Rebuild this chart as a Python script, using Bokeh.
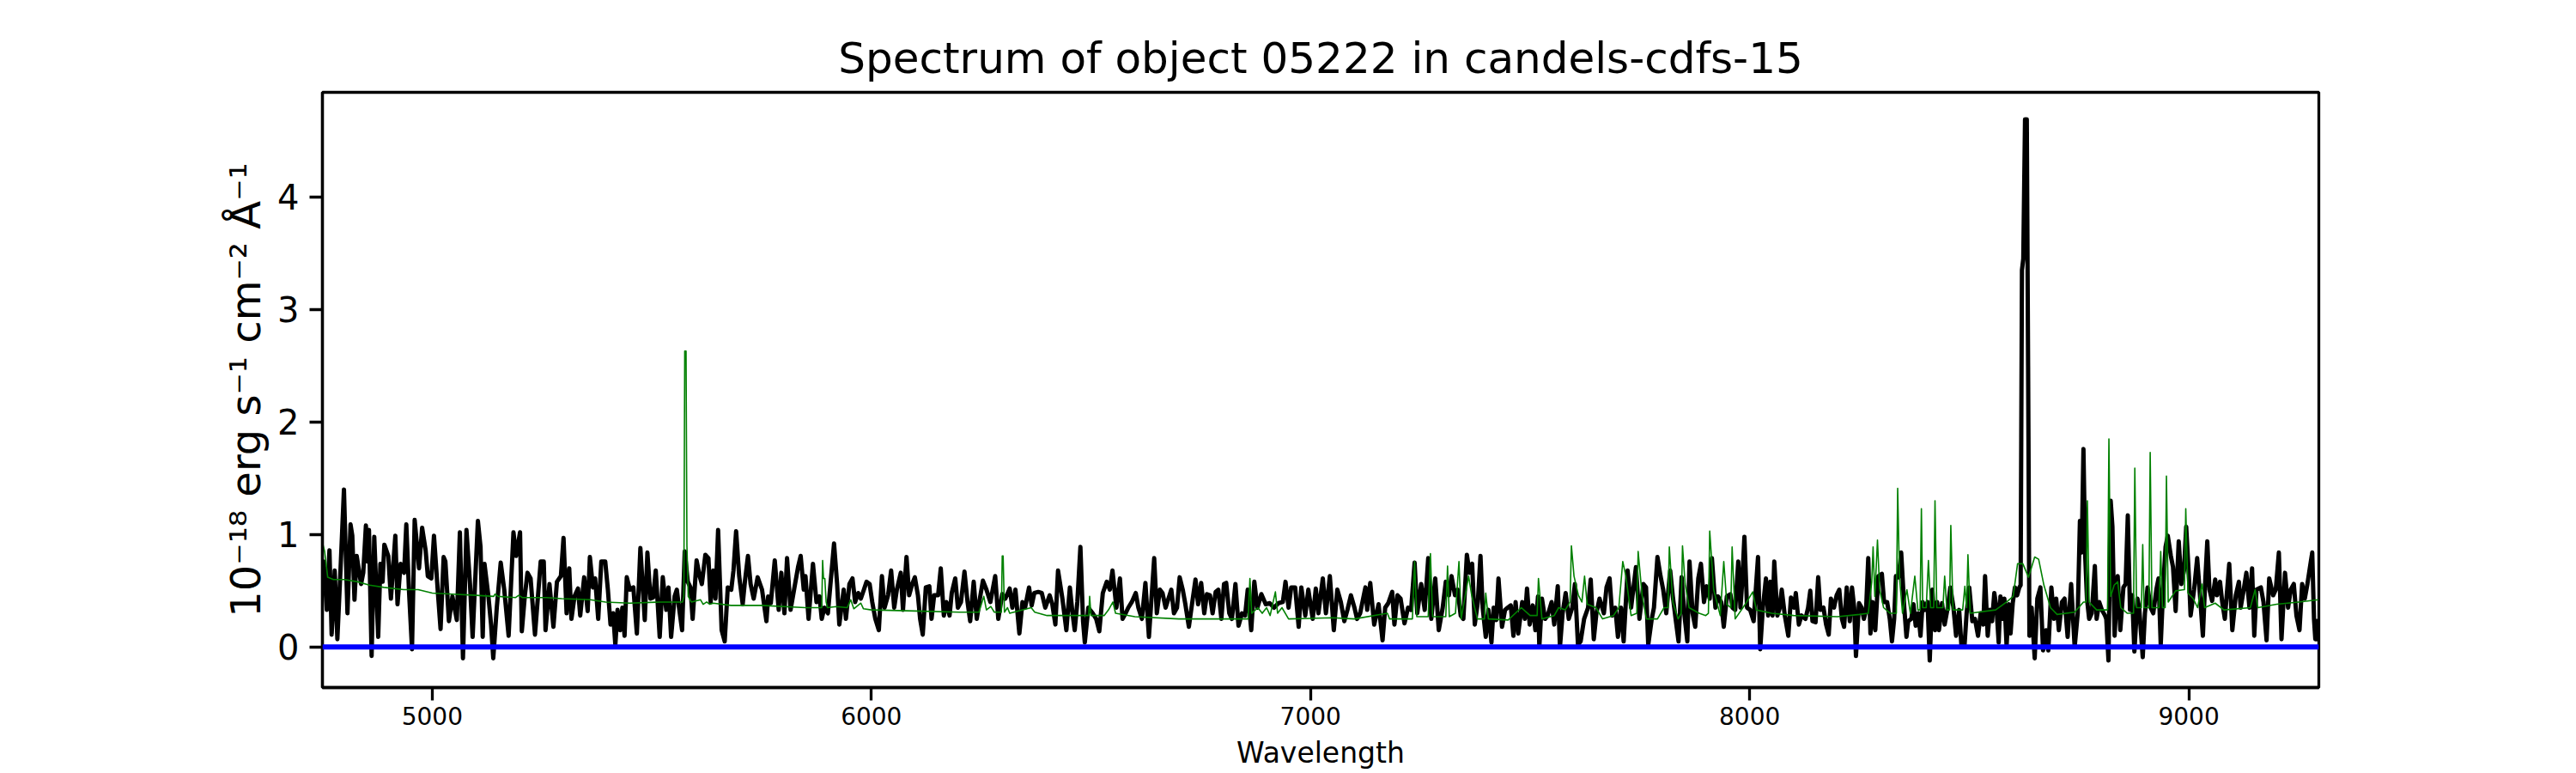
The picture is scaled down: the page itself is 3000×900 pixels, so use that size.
from bokeh.plotting import figure
from bokeh.models import Range1d, FixedTicker, ColumnDataSource, Span
from bokeh.embed import file_html
from bokeh.resources import INLINE

TITLE = "Spectrum of object 05222 in candels-cdfs-15"
X_LABEL = "Wavelength"
Y_LABEL = "10\u207b\u00b9\u2078 erg s\u207b\u00b9 cm\u207b\u00b2 \u00c5\u207b\u00b9"
x_ticks = [5000, 6000, 7000, 8000, 9000]
y_ticks = [0, 1, 2, 3, 4]
zero_level = 0.0

# observed flux (black)
obs_wave = [
    4750,4753,4760,4766,4771,4778,4784,4792,4799,4807,4814,4818,4823,4828,4838,4843,4849,4852,4856,4862,
    4868,4877,4882,4887,4891,4900,4906,4916,4921,4928,4936,4941,4947,4954,4960,4970,4977,4985,4990,4998,
    5004,5013,5019,5026,5030,5038,5046,5056,5063,5070,5078,5086,5092,5104,5110,5115,5119,5128,5134,5139,
    5147,5156,5164,5174,5185,5191,5200,5204,5211,5217,5224,5234,5247,5254,5258,5267,5276,5284,5293,5299,
    5306,5312,5317,5324,5332,5337,5346,5354,5359,5366,5371,5378,5385,
    5394,5400,5406,5412,5417,5422,5428,5433,5438,5443,5450,5458,5466,5474,5484,5490,5497,5503,5509,5518,
    5525,5533,5538,5544,5552,5557,5562,5569,5575,5582,5588,5593,5602,5609,5614,5622,5629,5634,5640,5645,
    5651,5659,5666,5673,5681,5686,5692,5699,5707,5712,5719,5725,5732,5741,5751,5761,5765,5771,5780,5789,
    5795,5802,5808,5816,5824,5833,5839,5846,5850,5857,5867,5875,5882,5887,5893,5901,5915,5922,5927,5937,
    5942,5950,5957,5963,5970,5976,5983,5989,5996,6002,6009,6017,6024,6030,
    6038,6045,6052,6058,6067,6072,6080,6086,6093,6099,6106,6111,6117,6124,6132,6137,6143,6152,6158,6165,
    6171,6178,6183,6191,6197,6204,6212,6219,6225,6233,6240,6247,6254,6262,6271,6282,6289,6298,6305,6315,
    6321,6328,6337,6344,6350,6359,6365,6371,6380,6388,6396,6406,6412,6419,6425,6435,6444,6452,6458,6463,
    6469,6476,6482,6486,6494,6504,6512,6519,6527,6536,6543,6549,6558,6566,6572,6579,6585,6593,6602,6608,
    6616,6624,6632,6644,6650,6657,6663,6670,
    6683,6689,6696,6702,6709,6715,6723,6729,6738,6744,6751,6758,6764,6771,6777,6784,6790,6797,6803,6808,
    6815,6821,6829,6836,6844,6851,6857,6865,6872,6879,6888,6898,6907,6917,6927,6937,6943,6950,6956,6965,
    6973,6979,6988,6995,7005,7012,7018,7028,7035,7044,7053,7061,7069,7077,7084,7092,7100,7106,7113,7125,
    7129,7136,7145,7155,7164,7170,7177,7186,7191,7198,7205,7214,7222,7229,7237,7243,7252,7260,7268,7275,
    7284,7292,7301,7308,7315,7321,
    7329,7335,7342,7348,7356,7362,7368,7374,7381,7387,7392,7399,7405,7412,7417,7423,7428,7436,7443,7449,
    7456,7462,7467,7473,7482,7488,7493,7499,7506,7512,7518,7521,7527,7534,7540,7549,7555,7563,7568,7574,
    7581,7588,7596,7602,7609,7615,7623,7632,7638,7645,7651,7658,7668,7674,7681,7687,7694,7700,7707,7713,
    7722,7730,7741,7749,7758,7764,7769,7777,7782,7790,7797,7803,7810,7819,7825,7832,7838,7845,7851,7858,
    7863,7870,7876,7883,7889,7896,7902,7909,7914,7922,7928,7935,7941,7948,7956,7961,7967,7974,
    7979,7983,7988,7994,8001,8009,8019,8024,8030,8037,8042,8047,8052,8056,8063,8068,8073,8080,8088,8094,
    8101,8105,8112,8118,8127,8133,8138,8143,8150,8156,8161,8168,8174,8180,8185,8192,8198,8204,8210,8215,
    8221,8228,8233,8238,8242,8249,8255,8260,8265,8270,8275,8280,8286,8293,8301,8306,8313,8319,8324,8329,
    8333,8339,8345,8352,8357,8361,8368,8373,8378,8384,8389,8394,8399,8405,8410,8416,8422,8427,8431,8438,
    8444,8451,8457,8464,8470,8477,8482,8489,8494,8500,8507,8513,8520,8526,8532,8536,8542,8547,8552,8557,
    8562,8567,8571,8577,8580,8585,8590,8594,8599,8604,8609,8614,8617,
    8620,8623,8627,8631,8634,8637,
    8642,8649,8655,8662,8668,8675,8680,8687,8693,8698,8704,8711,8717,8724,8732,8740,8747,8752,8756,8760,
    8764,8768,8773,8779,8786,8790,8796,8802,8809,8812,8817,8822,8826,8831,8838,8844,8851,8856,8861,8866,
    8871,8876,8883,8887,8895,8900,8906,8913,8919,8926,8931,8936,8942,8947,8952,8959,8964,8970,8977,8983,
    8989,8994,9001,9004,9012,9019,9025,9032,9037,9042,9047,9053,9060,9064,9071,9076,9082,9092,9099,9107,
    9114,9118,9125,9131,9138,9144,9149,9154,9164,9170,9177,9183,9192,9198,9205,9211,9219,9226,9232,9239,
    9245,9252,9258,9264,9270,9277,9281,9285,9288,9292,9295,
]
obs_flux = [
    0.50,0.76,0.33,0.86,0.11,0.68,0.07,0.76,1.40,0.30,1.09,0.99,0.42,0.81,0.56,0.66,1.08,0.76,1.04,-0.08,
    0.98,0.09,0.74,0.58,0.91,0.81,0.43,0.99,0.38,0.74,0.66,1.09,0.51,-0.02,1.13,0.70,1.06,0.86,0.63,0.61,
    0.99,0.48,0.16,0.80,0.76,0.23,0.45,0.24,1.02,-0.10,1.04,0.56,0.09,1.12,0.89,0.09,0.74,0.45,0.20,-0.10,
    0.35,0.75,0.51,0.10,1.02,0.81,1.02,0.14,0.46,0.66,0.61,0.11,0.76,0.76,0.15,0.56,0.18,0.58,0.63,0.97,
    0.30,0.70,0.25,0.45,0.52,0.28,0.62,0.32,0.80,0.53,0.61,0.25,0.76,
    0.76,0.51,0.20,0.30,0.02,0.33,0.15,0.35,0.10,0.62,0.51,0.53,0.12,0.88,0.24,0.84,0.43,0.44,0.68,0.09,
    0.62,0.33,0.53,0.09,0.45,0.51,0.35,0.15,0.85,0.58,0.53,0.25,0.77,0.63,0.56,0.82,0.79,0.40,0.68,0.43,
    1.04,0.15,0.05,0.53,0.51,0.68,1.03,0.63,0.38,0.58,0.81,0.56,0.43,0.62,0.51,0.23,0.45,0.39,0.77,0.33,
    0.66,0.30,0.79,0.33,0.51,0.71,0.81,0.51,0.63,0.25,0.74,0.40,0.45,0.25,0.35,0.30,0.92,0.56,0.20,0.51,
    0.25,0.56,0.61,0.40,0.48,0.43,0.51,0.58,0.56,0.40,0.25,0.15,0.63,0.35,
    0.46,0.68,0.35,0.51,0.66,0.33,0.80,0.46,0.56,0.62,0.46,0.25,0.11,0.53,0.54,0.25,0.46,0.46,0.70,0.28,
    0.40,0.28,0.48,0.61,0.35,0.40,0.67,0.40,0.23,0.58,0.25,0.43,0.59,0.51,0.40,0.63,0.25,0.47,0.43,0.52,
    0.35,0.51,0.12,0.40,0.35,0.53,0.37,0.48,0.49,0.48,0.35,0.46,0.38,0.20,0.68,0.43,0.15,0.53,0.30,0.15,
    0.40,0.89,0.23,0.04,0.35,0.30,0.25,0.14,0.48,0.58,0.51,0.68,0.35,0.61,0.25,0.30,0.35,0.40,0.48,0.35,
    0.25,0.57,0.09,0.79,0.30,0.51,0.48,0.35,
    0.51,0.30,0.35,0.62,0.51,0.38,0.18,0.35,0.60,0.38,0.57,0.30,0.47,0.46,0.30,0.49,0.51,0.25,0.56,0.57,
    0.30,0.25,0.56,0.19,0.30,0.28,0.51,0.15,0.58,0.35,0.47,0.38,0.39,0.35,0.39,0.40,0.58,0.35,0.53,0.53,
    0.18,0.53,0.28,0.51,0.25,0.52,0.30,0.61,0.30,0.63,0.15,0.51,0.40,0.23,0.33,0.46,0.35,0.25,0.30,0.53,
    0.33,0.57,0.20,0.38,0.06,0.35,0.39,0.49,0.20,0.46,0.43,0.21,0.35,0.33,0.75,0.30,0.56,0.33,0.79,0.25,
    0.61,0.15,0.35,0.58,0.46,0.63,
    0.46,0.51,0.28,0.25,0.82,0.66,0.74,0.20,0.40,0.81,0.35,0.09,0.33,0.04,0.35,0.24,0.61,0.18,0.33,0.35,
    0.37,0.10,0.40,0.12,0.40,0.25,0.52,0.20,0.37,0.15,0.45,0.00,0.43,0.25,0.28,0.40,0.20,0.54,0.00,0.30,
    0.48,0.25,0.35,0.56,0.02,0.05,0.25,0.35,0.60,0.07,0.30,0.43,0.30,0.53,0.61,0.28,0.35,0.09,0.35,0.05,
    0.68,0.35,0.71,0.25,0.56,0.53,0.02,0.25,0.35,0.80,0.63,0.51,0.30,0.68,0.45,0.23,0.05,0.62,0.30,0.05,
    0.76,0.30,0.18,0.61,0.74,0.40,0.54,0.43,0.79,0.35,0.45,0.40,0.18,0.45,0.47,0.35,0.33,0.76,
    0.35,0.58,0.98,0.35,0.33,0.23,0.80,-0.02,0.35,0.61,0.28,0.58,0.28,0.76,0.28,0.34,0.51,0.28,0.10,0.44,
    0.35,0.48,0.20,0.28,0.25,0.35,0.50,0.23,0.22,0.62,0.33,0.35,0.20,0.11,0.43,0.35,0.46,0.51,0.25,0.18,
    0.53,0.23,0.53,0.35,-0.08,0.39,0.35,0.25,0.33,0.79,0.12,0.40,0.15,0.63,0.65,0.40,0.40,0.25,0.05,0.25,
    0.63,0.62,0.84,0.35,0.09,0.23,0.25,0.38,0.19,0.30,0.10,0.40,0.33,0.40,-0.12,0.51,0.15,0.40,0.15,0.39,
    0.20,0.35,0.53,0.35,0.10,0.33,0.02,0.00,0.30,0.53,0.23,0.25,0.10,0.30,0.20,0.63,0.10,0.33,0.23,0.48,
    0.35,0.04,0.45,0.25,0.43,0.01,0.38,0.12,0.39,0.53,0.46,0.53,0.55,
    3.35,3.45,4.69,4.69,2.50,0.10,
    0.35,-0.10,0.43,0.53,-0.03,0.15,-0.03,0.53,0.25,0.43,0.15,0.40,0.43,0.09,0.56,0.00,0.30,1.12,0.84,1.76,
    0.81,0.43,0.25,0.30,0.72,0.25,0.40,0.33,0.28,0.25,-0.12,1.30,1.07,0.10,0.63,0.15,0.53,0.56,1.17,0.33,
    0.46,-0.04,0.43,0.35,-0.09,0.30,0.53,0.35,0.30,0.51,0.61,0.02,0.56,0.89,0.99,0.81,0.71,0.32,0.94,0.56,
    0.68,1.07,0.56,0.28,0.51,0.79,0.48,0.10,0.56,0.94,0.51,0.41,0.60,0.46,0.58,0.40,0.25,0.74,0.15,0.46,
    0.58,0.35,0.51,0.66,0.35,0.70,0.10,0.51,0.53,0.40,0.06,0.61,0.46,0.51,0.84,0.07,0.66,0.35,0.51,0.56,
    0.28,0.15,0.56,0.43,0.56,0.74,0.84,0.25,0.07,0.07,0.25,
]

# model / sky (green)
model_wave = [
    4750,4755,4762,4775,4800,4830,4857,4890,4935,4968,5000,5046,5100,5140,5143,5150,5190,5197,5205,5260,
    5295,5360,5395,5450,5520,5570,5573,5575,5578,5580,5583,5590,5611,5617,5625,5632,5640,5680,5750,5850,
    5887,5889,5891,5894,5897,5900,5920,5945,5953,5960,5976,5982,6000,6100,6200,6245,6256,6262,6272,6280,
    6296,6298,6300,6303,6310,6315,6364,6372,6400,6480,6495,6497,6500,6530,6540,6550,6556,6600,6700,6858,
    6862,6866,6880,6890,6900,6908,6920,6925,6935,6950,7050,7100,7175,7180,7232,7237,7242,7268,7273,7278,
    7308,7312,7316,7330,7338,7343,7360,7367,7380,7396,7399,7405,7450,7480,7500,7516,7519,7527,7555,7565,
    7580,7591,7594,7600,7610,7618,7624,7630,7650,7665,7690,7702,7711,7718,7730,7743,7746,7755,7765,7790,
    7805,7814,7817,7825,7837,7844,7847,7853,7862,7885,7900,7906,7909,7918,7933,7941,7948,7957,7960,7967,
    7990,8007,8015,8050,8100,8200,8250,8270,8278,8281,8285,8291,8296,8305,8320,8334,8337,8341,8348,8358,
    8366,8376,8383,8388,8391,8394,8402,8407,8412,8419,8422,8426,8440,8444,8449,8455,8458,8463,8485,8490,
    8494,8497,8502,8560,8585,8600,8610,8622,8635,8649,8658,8670,8685,8700,8740,8760,8766,8769,8773,8790,
    8815,8818,8822,8830,8838,8845,8860,8874,8877,8881,8892,8895,8898,8909,8912,8916,8932,8936,8940,8946,
    8949,8953,8970,8990,8993,8998,9010,9020,9030,9036,9060,9080,9140,9151,9157,9200,9250,9295,
]
model_flux = [
    0.93,0.85,0.62,0.60,0.60,0.58,0.55,0.53,0.51,0.51,0.48,0.47,0.46,0.45,0.47,0.45,0.44,0.46,0.44,0.44,
    0.43,0.42,0.40,0.39,0.40,0.40,0.45,2.63,2.63,0.90,0.45,0.40,0.42,0.38,0.40,0.38,0.39,0.37,0.37,0.35,
    0.35,0.77,0.61,0.61,0.40,0.35,0.36,0.35,0.42,0.34,0.39,0.34,0.33,0.32,0.31,0.31,0.45,0.33,0.36,0.31,
    0.31,0.81,0.81,0.31,0.35,0.30,0.35,0.31,0.28,0.28,0.28,0.45,0.28,0.28,0.33,0.40,0.30,0.27,0.25,0.25,
    0.61,0.30,0.35,0.30,0.35,0.28,0.49,0.30,0.35,0.25,0.26,0.25,0.30,0.25,0.25,0.76,0.27,0.27,0.83,0.27,
    0.27,0.72,0.27,0.30,0.76,0.25,0.63,0.46,0.25,0.25,0.48,0.25,0.24,0.35,0.28,0.28,0.61,0.25,0.28,0.35,
    0.33,0.40,0.90,0.63,0.46,0.40,0.63,0.38,0.35,0.25,0.28,0.35,0.76,0.63,0.28,0.30,0.85,0.46,0.25,0.25,
    0.35,0.35,0.89,0.40,0.25,0.30,0.90,0.56,0.35,0.30,0.28,0.30,1.03,0.51,0.28,0.76,0.38,0.35,0.89,0.25,
    0.38,0.49,0.33,0.30,0.28,0.27,0.29,0.30,0.58,0.89,0.45,0.95,0.51,0.35,0.30,0.30,1.41,0.63,0.30,0.51,
    0.30,0.63,0.33,0.33,1.23,0.35,0.35,0.77,0.35,0.35,1.30,0.35,0.35,0.63,0.33,0.33,1.08,0.33,0.33,0.54,
    0.35,0.82,0.30,0.33,0.40,0.45,0.74,0.74,0.62,0.80,0.78,0.55,0.35,0.29,0.31,0.40,0.40,1.30,0.40,0.33,
    0.33,1.85,0.45,0.55,0.58,0.35,0.30,0.30,1.59,0.35,0.35,0.91,0.35,0.35,1.73,0.35,0.35,0.85,0.35,0.35,
    1.52,0.40,0.50,0.51,1.23,0.48,0.43,0.35,0.56,0.35,0.39,0.33,0.35,0.51,0.35,0.38,0.40,0.42,
]

assert len(obs_wave) == len(obs_flux), (len(obs_wave), len(obs_flux))
assert len(model_wave) == len(model_flux), (len(model_wave), len(model_flux))

FONT = "DejaVu Sans"

p = figure(width=3000, height=900, output_backend="svg", toolbar_location=None,
           x_range=Range1d(4750, 9296), y_range=Range1d(-0.36, 4.93),
           min_border_left=375, min_border_right=300, min_border_top=107, min_border_bottom=100,
           title=TITLE)
p.background_fill_color = "white"
p.border_fill_color = "white"
p.grid.visible = False
p.outline_line_color = "black"
p.outline_line_width = 3.3
p.outline_line_alpha = 1.0

p.title.text_font = FONT
p.title.text_font_size = "50px"
p.title.text_font_style = "normal"
p.title.text_color = "black"
p.title.align = "center"
p.title.standoff = 22

obs_src = ColumnDataSource(dict(x=obs_wave, y=obs_flux))
mod_src = ColumnDataSource(dict(x=model_wave, y=model_flux))

p.line("x", "y", source=obs_src, line_color="black", line_width=5, line_join="round")
p.line("x", "y", source=mod_src, line_color="#008000", line_width=1.6, line_join="round")
p.add_layout(Span(location=zero_level, dimension="width", line_color="blue", line_width=6))

for ax in (p.xaxis[0], p.yaxis[0]):
    ax.major_tick_out = 15
    ax.major_tick_in = 0
    ax.minor_tick_line_color = None
    ax.major_tick_line_width = 3.3
    ax.major_tick_line_color = "black"
    ax.axis_line_width = 3.3
    ax.axis_line_color = "black"
    ax.major_label_text_font = FONT
    ax.major_label_text_color = "black"
    ax.axis_label_text_font = FONT
    ax.axis_label_text_font_style = "normal"
    ax.axis_label_text_color = "black"

xa = p.xaxis[0]
xa.ticker = FixedTicker(ticks=x_ticks)
xa.major_label_text_font_size = "28px"
xa.major_label_standoff = 7
xa.axis_label = X_LABEL
xa.axis_label_text_font_size = "33px"
xa.axis_label_standoff = 10

ya = p.yaxis[0]
ya.ticker = FixedTicker(ticks=y_ticks)
ya.major_label_text_font_size = "40px"
ya.major_label_standoff = 12
ya.axis_label = Y_LABEL
ya.axis_label_text_font_size = "48px"
ya.axis_label_standoff = 6

open("out.html", "w").write(file_html(p, INLINE))
